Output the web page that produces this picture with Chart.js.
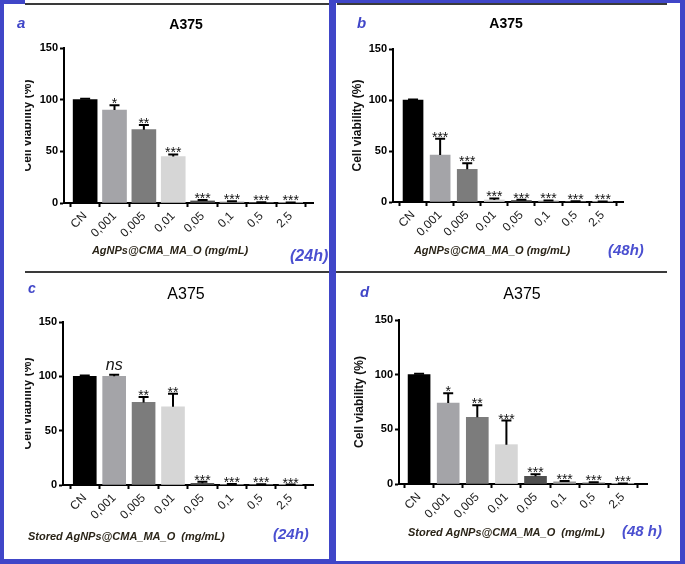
<!DOCTYPE html>
<html><head><meta charset="utf-8">
<script src="https://cdn.jsdelivr.net/npm/chart.js@4"></script>
<style>
html,body{margin:0;padding:0;background:#fff;}
#fig{position:relative;width:685px;height:564px;overflow:hidden;background:#fff;font-family:"Liberation Sans",Arial,sans-serif;}
.blue{position:absolute;background:#4046c8;}
.rule{position:absolute;height:2px;background:#3a3a3a;}
.t{position:absolute;white-space:nowrap;line-height:1;}
.c{transform:translateX(-50%);}
.lt{color:#4046c8;font-style:italic;font-weight:bold;}
.tt{color:#000;}
.xt{color:#2a2418;font-style:italic;font-weight:bold;font-size:11px;}
.tm{color:#4a4fd0;font-style:italic;font-weight:bold;}
canvas{position:absolute;}
</style></head><body>
<div id="fig">
<canvas id="ca" width="304" height="267" style="left:25px;top:5px"></canvas>
<canvas id="cb" width="344" height="267" style="left:336px;top:5px"></canvas>
<canvas id="cc" width="304" height="284" style="left:25px;top:275px"></canvas>
<canvas id="cd" width="344" height="285" style="left:336px;top:275px"></canvas>

<div class="t lt" style="left:17px;top:15px;font-size:15px">a</div>
<div class="t lt" style="left:357px;top:15px;font-size:15px">b</div>
<div class="t lt" style="left:28px;top:281px;font-size:14px">c</div>
<div class="t lt" style="left:360px;top:284px;font-size:15px">d</div>

<div class="t tt c" style="left:186px;top:17px;font-size:14px;font-weight:bold">A375</div>
<div class="t tt c" style="left:506px;top:16px;font-size:14px;font-weight:bold">A375</div>
<div class="t tt c" style="left:186px;top:286px;font-size:16px">A375</div>
<div class="t tt c" style="left:522px;top:286px;font-size:16px">A375</div>

<div class="t xt c" style="left:170px;top:245px">AgNPs@CMA_MA_O (mg/mL)</div>
<div class="t xt c" style="left:492px;top:245px">AgNPs@CMA_MA_O (mg/mL)</div>
<div class="t xt" style="left:28px;top:531px;white-space:pre">Stored AgNPs@CMA_MA_O  (mg/mL)</div>
<div class="t xt" style="left:408px;top:527px;white-space:pre">Stored AgNPs@CMA_MA_O  (mg/mL)</div>

<div class="t tm" style="left:290px;top:248px;font-size:16px">(24h)</div>
<div class="t tm" style="left:608px;top:242px;font-size:15px">(48h)</div>
<div class="t tm" style="left:273px;top:526px;font-size:15px">(24h)</div>
<div class="t tm" style="left:622px;top:523px;font-size:15px">(48 h)</div>

<div class="rule" style="left:25px;width:304px;top:3px"></div>
<div class="rule" style="left:337px;width:330px;top:3px"></div>
<div class="rule" style="left:25px;width:304px;top:271px"></div>
<div class="rule" style="left:336px;width:331px;top:271px"></div>

<div class="blue" style="left:0;top:0;width:4px;height:564px"></div>
<div class="blue" style="left:0;top:0;width:25px;height:4px"></div>
<div class="blue" style="left:336px;top:0;width:349px;height:3px"></div>
<div class="blue" style="left:329px;top:0;width:7px;height:564px"></div>
<div class="blue" style="left:680px;top:0;width:5px;height:564px"></div>
<div class="blue" style="left:0;top:559px;width:336px;height:5px"></div>
<div class="blue" style="left:336px;top:561px;width:349px;height:3px"></div>
</div>
<script>
const categories = ['CN', '0,001', '0,005', '0,01', '0,05', '0,1', '0,5', '2,5'];
const yTicks = [0, 50, 100, 150];

// a: AgNPs@CMA_MA_O, 24h
const viabilityA = [100, 90, 71, 45, 2, 1, 0.4, 0.3];
const errorA     = [1, 4.5, 4.5, 2, 1, 0.8, 0.3, 0.2];
const signifA    = ['', '*', '**', '***', '***', '***', '***', '***'];
// b: AgNPs@CMA_MA_O, 48h
const viabilityB = [100, 46, 32, 2, 1.5, 1, 0.5, 0.3];
const errorB     = [0.5, 16, 6, 1.5, 0.8, 0.5, 0.3, 0.2];
const signifB    = ['', '***', '***', '***', '***', '***', '***', '***'];
// c: Stored AgNPs@CMA_MA_O, 24h
const viabilityC = [100, 100, 76, 72, 1.5, 0.5, 0.3, 0.2];
const errorC     = [0.8, 1.5, 5, 12, 1.5, 0.5, 0.3, 0.2];
const signifC    = ['', 'ns', '**', '**', '***', '***', '***', '***'];
// d: Stored AgNPs@CMA_MA_O, 48 h
const viabilityD = [100, 74, 61, 36, 7, 2, 1, 0.3];
const errorD     = [0.8, 9, 11, 22, 2, 0.8, 0.5, 0.2];
const signifD    = ['', '*', '**', '***', '***', '***', '***', '***'];

const barColors = ['#000000', '#a4a4a8', '#7c7c7c', '#d6d6d6', '#4f4f4f', '#9a9a9a', '#6a6a6a', '#b0b0b0'];
const FONT = '"Liberation Sans", Arial, sans-serif';

function annotPlugin(values, errors, labels) {
  return {
    id: 'annot',
    afterDatasetsDraw(chart) {
      const {ctx, scales: {x, y}} = chart;
      ctx.save();
      ctx.strokeStyle = '#000';
      ctx.lineWidth = 2;
      ctx.fillStyle = '#111';
      ctx.textAlign = 'center';
      ctx.textBaseline = 'alphabetic';
      values.forEach((v, i) => {
        const px = x.getPixelForValue(i);
        const yb = y.getPixelForValue(v);
        const yt = y.getPixelForValue(v + errors[i]);
        ctx.beginPath();
        ctx.moveTo(px, yb); ctx.lineTo(px, yt);
        ctx.moveTo(px - 5, yt); ctx.lineTo(px + 5, yt);
        ctx.stroke();
        const s = labels[i];
        if (s === 'ns') {
          ctx.font = 'italic 16px ' + FONT;
          ctx.fillText(s, px, yt - 5);
        } else if (s) {
          ctx.font = '14px ' + FONT;
          ctx.fillText(s, px, yt + 3);
        }
      });
      ctx.restore();
    }
  };
}

function makeChart(id, cfg, values, errors, labels) {
  const cv = document.getElementById(id);
  const W = cv.width, H = cv.height;
  const XH = 50;
  new Chart(cv, {
    type: 'bar',
    data: {
      datasets: [{
        data: values.map((v, i) => ({x: i, y: v})),
        backgroundColor: barColors,
        borderWidth: 0,
        barThickness: cfg.bar
      }]
    },
    options: {
      responsive: false,
      animation: false,
      devicePixelRatio: 1,
      layout: {padding: {left: 0, top: cfg.t, right: W - cfg.r, bottom: H - cfg.b - XH}},
      plugins: {legend: {display: false}, tooltip: {enabled: false}, title: {display: false}},
      scales: {
        x: {
          type: 'linear',
          offset: false,
          min: cfg.xmin, max: cfg.xmax,
          afterBuildTicks: s => { s.ticks = categories.map((c, i) => ({value: i})); },
          afterFit: s => { s.height = XH; },
          grid: {drawOnChartArea: false, drawTicks: true, tickLength: 4, tickWidth: 2, tickColor: '#000'},
          border: {display: true, color: '#000', width: 2},
          ticks: {
            autoSkip: false, minRotation: 45, maxRotation: 45, padding: 2,
            color: '#1a1a1a', font: {family: FONT, size: 12},
            callback: v => categories[v]
          }
        },
        y: {
          min: 0, max: 150,
          afterBuildTicks: s => { s.ticks = yTicks.map(v => ({value: v})); },
          afterFit: s => { s.width = cfg.l; },
          grid: {drawOnChartArea: false, drawTicks: true, tickLength: 4, tickWidth: 2, tickColor: '#000'},
          border: {display: true, color: '#000', width: 2},
          ticks: {padding: 2, color: '#000', font: {family: FONT, size: 11, weight: 'bold'}},
          title: {
            display: true, text: 'Cell viability (%)', color: '#111',
            font: {family: FONT, size: 12, weight: 'bold', lineHeight: 1},
            padding: {top: cfg.tp, bottom: 0}
          }
        }
      }
    },
    plugins: [annotPlugin(values, errors, labels)]
  });
}

makeChart('ca', {l: 39, r: 288, t: 43, b: 198, bar: 24, xmin: -0.72, xmax: 7.76, tp: -3}, viabilityA, errorA, signifA);
makeChart('cb', {l: 57, r: 287, t: 44, b: 197, bar: 20, xmin: -0.74, xmax: 7.75, tp: 16}, viabilityB, errorB, signifB);
makeChart('cc', {l: 38, r: 288, t: 47, b: 210, bar: 23, xmin: -0.74, xmax: 7.76, tp: -3}, viabilityC, errorC, signifC);
makeChart('cd', {l: 63, r: 311, t: 45, b: 209, bar: 22, xmin: -0.69, xmax: 7.83, tp: 18}, viabilityD, errorD, signifD);
</script>
</body></html>
